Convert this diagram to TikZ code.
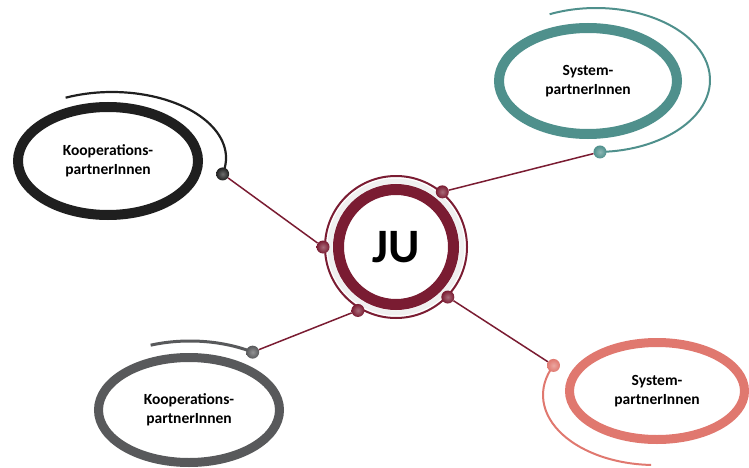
\documentclass[tikz,border=0pt]{standalone}
\usepackage{fontspec}
\setmainfont{Carlito}
\usetikzlibrary{shapes.geometric,backgrounds,calc}
\definecolor{darkred}{HTML}{7A1C32}
\definecolor{coal}{HTML}{1F1F1F}
\definecolor{sea}{HTML}{4F908C}
\definecolor{stone}{HTML}{58595B}
\definecolor{salmon}{HTML}{E0786F}

\begin{document}
\begin{tikzpicture}[x=1pt,y=-1pt]
    \tikzset{%
      ring/.style={ellipse, draw, line width=9pt, inner sep=0pt,
        align=center, font=\bfseries\fontsize{15.5}{19}\selectfont},
      dot/.style={circle, inner sep=0pt, minimum size=13pt,
        shading=radial, inner color=#1!65!white, outer color=#1},
      link/.style={darkred, line width=1.5pt},
      swirl/.style={line width=2.2pt},
    }
    \useasboundingbox (0,0) rectangle (749,468);
    % centre
    \node[circle, draw=darkred, line width=11pt, minimum size=115pt,
      font=\bfseries\fontsize{48}{48}\selectfont] (JU) at (396,247) {JU};
    \node[dot=darkred] (J1) at ($(JU.center)+(-50:72)$) {};
    \node[dot=darkred] (J2) at ($(JU.center)+(180:73)$) {};
    \node[dot=darkred] (J3) at ($(JU.center)+(121:74)$) {};
    \node[dot=darkred] (J4) at ($(JU.center)+(44:72)$) {};
    % outer ellipses
    \node[ring, draw=coal, line width=10pt, minimum width=180pt,
      minimum height=108pt] (K1) at (108,161) {Kooperations-\\partnerInnen};
    \node[ring, draw=sea, line width=10pt, minimum width=178pt,
      minimum height=106pt] (S1) at (588,81) {System-\\partnerInnen};
    \node[ring, draw=stone, minimum width=181pt,
      minimum height=105pt] (K2) at (189,410) {Kooperations-\\partnerInnen};
    \node[ring, draw=salmon, minimum width=175pt,
      minimum height=97pt] (S2) at (657,391) {System-\\partnerInnen};
    % swirl ends
    \coordinate (A) at (112,158);
    \coordinate (B) at (596,80);
    \coordinate (C) at (190,410);
    \coordinate (D) at (655,395);
    \node[dot=coal] (K1d) at ($(A)+(14:114 and 66)$) {};
    \node[dot=sea] (S1d) at ($(B)+(88:114 and 72)$) {};
    \node[dot=stone] (K2d) at ($(C)+(-57:115 and 69)$) {};
    \node[dot=salmon] (S2d) at ($(D)+(-155:112 and 70)$) {};

    \begin{scope}[on background layer]
      \draw [gray!12, line width=5pt] (JU.center) circle[radius=66];
      \draw [darkred, line width=2pt] (JU.center) circle[radius=71];
      \draw [swirl, coal] (K1d.center)
        arc[start angle=14, end angle=-114, x radius=114, y radius=66];
      \draw [swirl, sea, line width=2pt] (S1d.center)
        arc[start angle=88, end angle=-114, x radius=114, y radius=72];
      \draw [swirl, stone, line width=3pt] (K2d.center)
        arc[start angle=-57, end angle=-110, x radius=115, y radius=69];
      \draw [swirl, salmon, line width=2pt] (S2d.center)
        arc[start angle=-155, end angle=-268, x radius=112, y radius=70];
    \end{scope}

    \draw [link] (J1) -- (S1d);
    \draw [link] (J2) -- (K1d);
    \draw [link] (J3) -- (K2d);
    \draw [link] (J4) -- (S2d);
  \end{tikzpicture}
\end{document}
